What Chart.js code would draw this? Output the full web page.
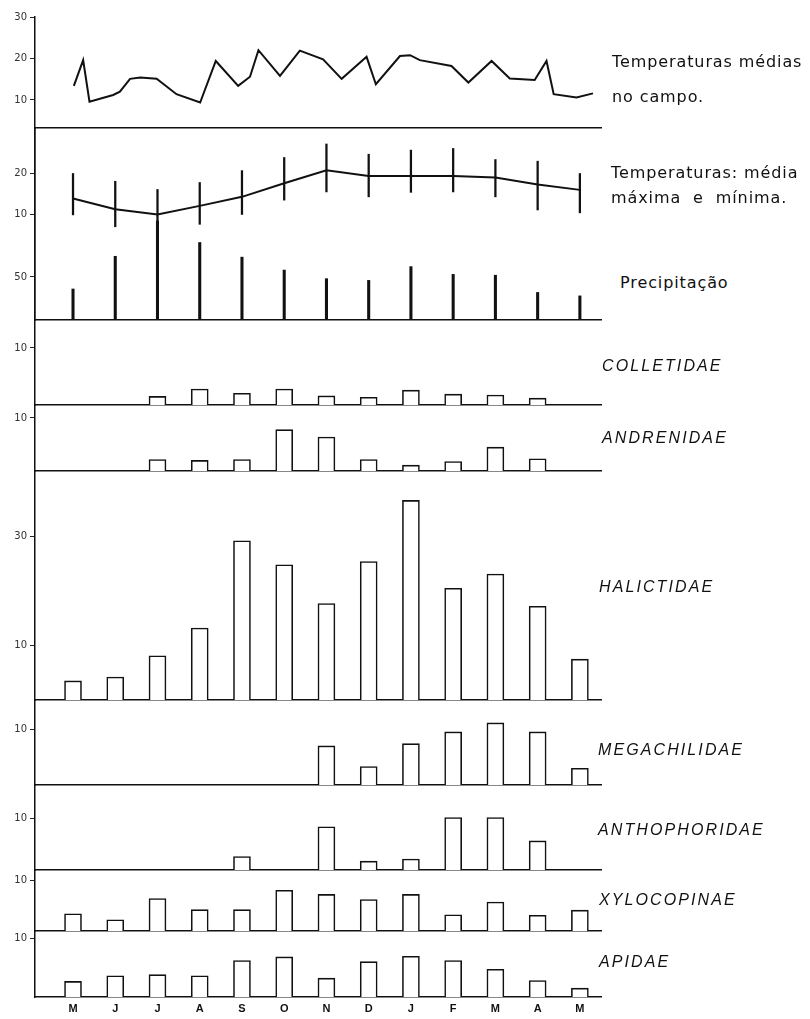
<!DOCTYPE html>
<html><head><meta charset="utf-8">
<script src="https://cdn.jsdelivr.net/npm/chart.js@4.4.1/dist/chart.umd.min.js"></script>
<style>
html,body{margin:0;padding:0;background:#fff;}
#wrap{position:relative;width:810px;height:1019px;overflow:hidden;background:#fff;}
canvas{position:absolute;left:0;}
.lab{position:absolute;font-family:"DejaVu Sans",sans-serif;font-size:16px;color:#111;white-space:pre;transform:translateY(-50%);letter-spacing:0.9px;line-height:1;}
.fam{position:absolute;font-family:"Liberation Sans",Arial,sans-serif;font-style:italic;font-size:16px;color:#111;white-space:pre;transform:translateY(-50%);letter-spacing:2.1px;line-height:1;}
</style></head><body><div id="wrap"></div>
<script>
// ---------- data ----------
const months = ['M','J','J','A','S','O','N','D','J','F','M','A','M'];

// field temperatures (irregular sampling; x in month units, 0 = first May)
const fieldTempX = [0.02,0.24,0.39,0.95,1.11,1.35,1.59,1.98,2.45,3.01,3.38,3.91,4.19,4.39,4.90,5.37,5.92,6.36,6.95,7.17,7.74,7.98,8.21,8.96,9.36,9.91,10.34,10.93,11.21,11.38,11.92,12.31];
const fieldTempY = [13.4,19.6,9.6,11.2,12.0,15.1,15.4,15.1,11.4,9.4,19.4,13.4,15.6,22.0,15.8,21.9,19.8,15.1,20.4,13.8,20.6,20.8,19.6,18.2,14.2,19.4,15.2,14.8,19.4,11.4,10.6,11.6];

const meanTemp = [13.8,11.2,9.9,12.0,14.2,17.5,20.7,19.3,19.3,19.3,18.9,17.2,15.9];
const maxTemp  = [19.9,18.0,16.0,17.7,20.6,23.8,27.1,24.6,25.6,26.0,23.3,22.9,19.9];
const minTemp  = [9.8,6.9,6.3,7.5,9.9,13.4,15.4,14.2,15.3,15.4,14.2,11.0,10.3];
const precipitation = [36,74,115,90,73,58,48,46,62,53,52,32,28];

const colletidae    = [0,0,1.5,2.8,2.05,2.8,1.6,1.35,2.6,1.9,1.75,1.2,0];
const andrenidae    = [0,0,2.15,2.0,2.15,7.8,6.4,2.15,1.1,1.8,4.5,2.3,0];
const halictidae    = [3.5,4.2,8.1,13.2,29.2,24.8,17.7,25.4,36.6,20.5,23.1,17.2,7.5];
const megachilidae  = [0,0,0,0,0,0,7.0,3.3,7.4,9.5,11.1,9.5,3.0];
const anthophoridae = [0,0,0,0,2.6,0,8.3,1.7,2.1,10.1,10.1,5.6,0];
const xylocopinae   = [3.4,2.2,6.4,4.2,4.2,8.0,7.2,6.2,7.2,3.2,5.7,3.1,4.1];
const apidae        = [2.65,3.6,3.8,3.6,6.2,6.8,3.2,6.0,6.9,6.2,4.7,2.8,1.5];

const ticksFieldTemp = [10,20,30];
const ticksTemp = [10,20];
const ticksPrecip = [50];
const ticksBees = [10];
const ticksHalictidae = [10,30];

// ---------- layout ----------
const wrap = document.getElementById('wrap');
const PAD = 12, CW = 620, AXIS_W = 35, RIGHT = 601;
const INK = '#111';

function bars(arr){
  return {type:'bar', data: arr.map((v,i)=>({x:i,y:v})), backgroundColor:'#fff',
    borderColor:INK, borderWidth:1.6, barThickness:17, borderSkipped:'bottom'};
}

function makeChart(top, bottom, yMin, yMax, yTicks, datasets, opts={}){
  const extraBottom = opts.monthLabels ? 22 : 0;
  const c = document.createElement('canvas');
  const h = bottom - top + 2*PAD + extraBottom;
  c.width = CW; c.height = h;
  c.style.top = (top - PAD) + 'px';
  c.style.width = CW + 'px'; c.style.height = h + 'px';
  wrap.appendChild(c);
  return new Chart(c, {
    type:'bar',
    data:{datasets},
    options:{
      responsive:false, animation:false, events:[],
      layout:{padding:{top:PAD,bottom:PAD,left:0,right:CW-RIGHT}},
      plugins:{legend:{display:false}, tooltip:{enabled:false}},
      scales:{
        x:{type:'linear', min:-0.9, max:12.5, offset:false,
          grid:{display:false, drawTicks:false},
          border:{display: opts.baseline !== false, color:INK, width:1.5},
          ticks:{display: !!opts.monthLabels, color:INK, padding:5,
            font:{family:'Liberation Sans', size:11, weight:'bold'},
            callback:(v)=>months[v]},
          afterBuildTicks:(a)=>{ a.ticks = months.map((m,i)=>({value:i})); },
          afterFit:(s)=>{ s.height = extraBottom; }
        },
        y:{type:'linear', min:yMin, max:yMax,
          grid:{display:true, drawOnChartArea:false, drawTicks:true, tickLength:5, color:'#222', lineWidth:1},
          border:{display: opts.yBorder !== false, color:INK, width:1.5},
          ticks:{color:'#333', padding:3, font:{family:'DejaVu Sans', size:10}},
          afterBuildTicks:(a)=>{ a.ticks = yTicks.map(v=>({value:v})); },
          afterFit:(s)=>{ s.width = AXIS_W; }
        }
      }
    }
  });
}

// Panel 1: field temperatures
makeChart(17, 128, 3.25, 30, ticksFieldTemp, [
  {type:'line', data: fieldTempX.map((x,i)=>({x, y:fieldTempY[i]})), borderColor:INK,
   borderWidth:2, pointRadius:0, tension:0, fill:false}
]);
// Panel 2: mean / max / min temperatures
makeChart(128, 320, -15.85, 31, ticksTemp, [
  {type:'line', data: meanTemp.map((v,i)=>({x:i,y:v})), borderColor:INK, borderWidth:2,
   pointRadius:0, tension:0, fill:false},
  {type:'bar', data: months.map((m,i)=>({x:i, y:[minTemp[i], maxTemp[i]]})), backgroundColor:INK,
   borderWidth:0, barThickness:1.6}
], {baseline:false});
// Panel 3: precipitation
makeChart(128, 320, 0, 223, ticksPrecip, [
  {type:'bar', data: precipitation.map((v,i)=>({x:i,y:v})), backgroundColor:INK, borderWidth:0, barThickness:2.4}
]);
// Bee families
makeChart(320, 405, 0, 14.9, ticksBees, [bars(colletidae)]);
makeChart(405, 471, 0, 12.45, ticksBees, [bars(andrenidae)]);
makeChart(471, 700, 0, 42.0, ticksHalictidae, [bars(halictidae)]);
makeChart(700, 785, 0, 15.2, ticksBees, [bars(megachilidae)]);
makeChart(785, 870, 0, 16.35, ticksBees, [bars(anthophoridae)]);
makeChart(870, 931, 0, 12.0, ticksBees, [bars(xylocopinae)]);
makeChart(931, 997, 0, 11.2, ticksBees, [bars(apidae)], {monthLabels:true});

// ---------- right-hand labels ----------
const labels = [
  ['lab','Temperaturas médias',612,62],
  ['lab','no campo.',612,97],
  ['lab','Temperaturas: média',611,173],
  ['lab','máxima  e  mínima.',611,198],
  ['lab','Precipitação',620,283],
  ['fam','COLLETIDAE',602,366],
  ['fam','ANDRENIDAE',602,438],
  ['fam','HALICTIDAE',599,587],
  ['fam','MEGACHILIDAE',598,750],
  ['fam','ANTHOPHORIDAE',598,830],
  ['fam','XYLOCOPINAE',599,900],
  ['fam','APIDAE',599,962]
];
labels.forEach(([cls,t,x,y])=>{
  const d = document.createElement('div');
  d.className = cls; d.textContent = t;
  d.style.left = x + 'px'; d.style.top = y + 'px';
  wrap.appendChild(d);
});
</script></body></html>
